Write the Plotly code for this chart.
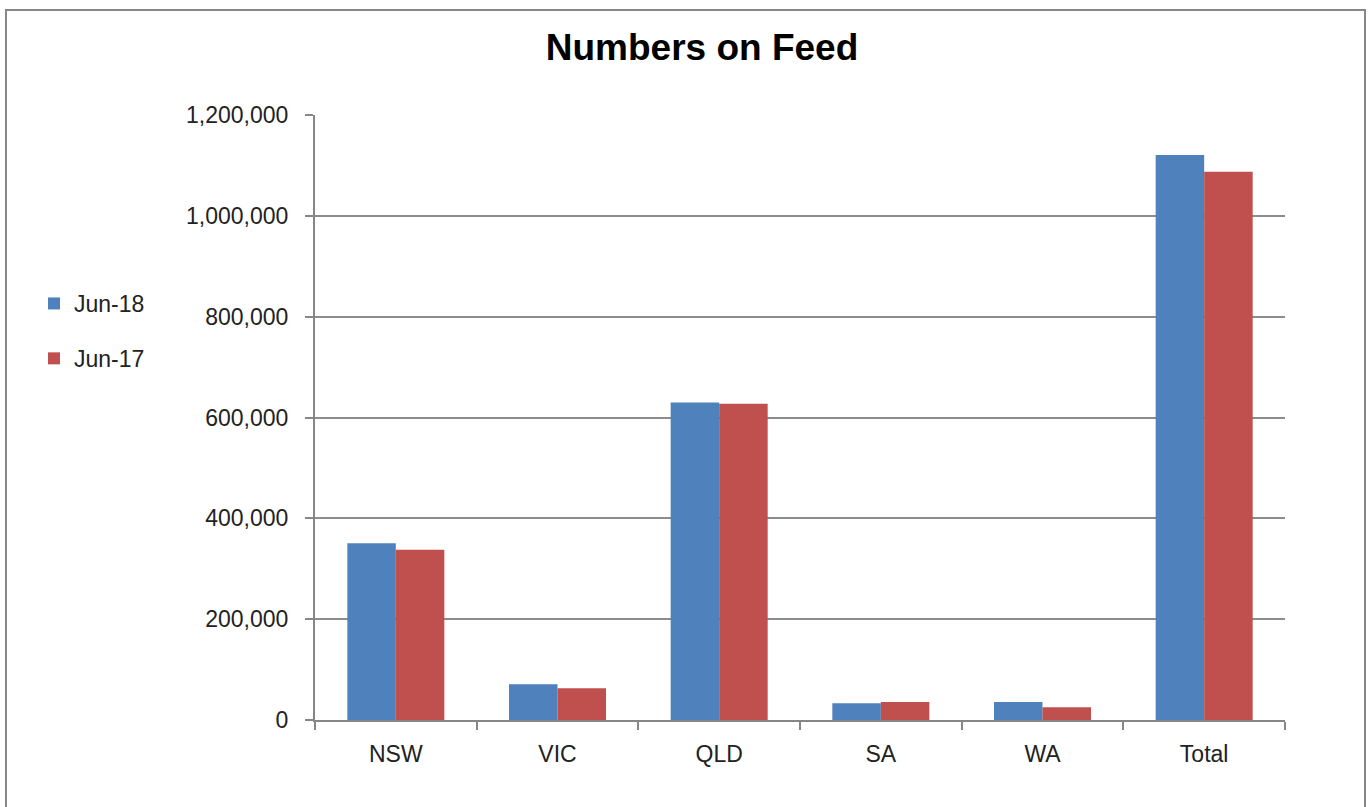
import plotly.graph_objects as go

categories = ["NSW", "VIC", "QLD", "SA", "WA", "Total"]
jun18 = [350500, 70800, 630000, 33100, 35700, 1120700]
jun17 = [337800, 62800, 627400, 35700, 25100, 1087600]

W, H = 1370, 807
L, R, T, B = 315, 1285, 115, 720

def px_x(p):
    return (p - L) / (R - L)

def px_y(p):
    return (B - p) / (B - T)

font = "Liberation Sans, Open Sans, sans-serif"

fig = go.Figure()
fig.add_trace(go.Bar(name="Jun-18", x=categories, y=jun18, marker_color="#4F81BD",
                     marker_line_width=0, legendgroup="a"))
fig.add_trace(go.Bar(name="Jun-17", x=categories, y=jun17, marker_color="#C0504D",
                     marker_line_width=0, legendgroup="b"))

fig.update_layout(
    width=W, height=H,
    margin=dict(l=L, r=W - R, t=T, b=H - B),
    paper_bgcolor="white", plot_bgcolor="white",
    barmode="group", bargap=0.4, bargroupgap=0,
    font=dict(family=font, size=23, color="#222222"),
    title=dict(text="<b>Numbers on Feed</b>", x=702 / W, xanchor="center",
               y=1 - 47 / H, yanchor="middle",
               font=dict(size=37, color="black", family=font)),
    legend=dict(x=px_x(34), xanchor="left", y=px_y(282), yanchor="top",
                font=dict(size=23), tracegroupgap=22, bgcolor="rgba(0,0,0,0)"),
    xaxis=dict(showgrid=False, showline=True, linecolor="#868686", linewidth=2,
               ticks="outside", tickson="boundaries", ticklen=8, tickcolor="#868686",
               tickwidth=2, tickfont=dict(size=23), ticklabelstandoff=12),
    yaxis=dict(range=[0, 1200000], dtick=200000, tickformat=",",
               showgrid=True, gridcolor="#8c8c8c", gridwidth=2,
               showline=True, linecolor="#868686", linewidth=2,
               ticks="outside", ticklen=8, tickcolor="#868686", tickwidth=2,
               tickfont=dict(size=23), zeroline=False, ticklabelstandoff=12),
    shapes=[dict(type="rect", xref="paper", yref="paper",
                 x0=px_x(6), x1=px_x(1365), y0=px_y(830), y1=px_y(10),
                 line=dict(color="#868686", width=2), fillcolor="rgba(0,0,0,0)",
                 layer="below")],
)

fig.write_html("out.html", config={"displayModeBar": False},
               post_script="document.body.style.margin='0';document.body.style.overflow='hidden';")
